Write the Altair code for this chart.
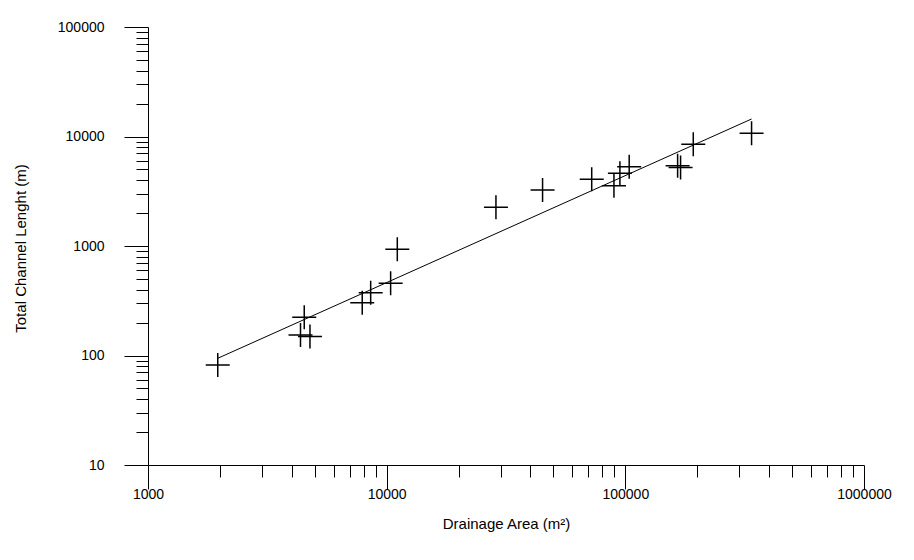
import altair as alt
import pandas as pd

drainage_area = [1960, 4515, 4355, 4771, 7900, 8570, 10390, 11080, 28700, 45000,
                 72300, 89600, 94900, 103800, 165600, 170400, 192600, 338000]
channel_length = [82, 223, 154, 149, 303, 374, 456, 933, 2256, 3246,
                  4066, 3556, 4613, 5300, 5400, 5200, 8490, 10690]

# Fitted power-law line (end points)
fit_area = [1960, 338000]
fit_length = [94.3, 14450]

# Axis ticks
x_major = [1000, 10000, 100000, 1000000]
y_major = [10, 100, 1000, 10000, 100000]
x_ticks = [m * k for m in x_major[:-1] for k in range(1, 10)] + [x_major[-1]]
y_ticks = [m * k for m in y_major[:-1] for k in range(1, 10)] + [y_major[-1]]

points = pd.DataFrame({"area": drainage_area, "length": channel_length})
fit = pd.DataFrame({"area": fit_area, "length": fit_length})

FONT = "Liberation Sans"
is_major = "abs(log(datum.value)/LN10 - round(log(datum.value)/LN10)) < 0.001"

x_scale = alt.Scale(type="log", domain=[1000, 1000000], nice=False)
y_scale = alt.Scale(type="log", domain=[10, 100000], nice=False)

x_axis = alt.Axis(
    values=x_ticks, format="d", labelExpr=f"({is_major}) ? datum.label : ''",
    tickSize={"condition": {"test": is_major, "value": 24}, "value": 12},
    labelOverlap=False, labelFlush=False, grid=False,
    labelPadding=-2, labelBaseline="top",
    title="Drainage Area (m²)", titleX=358, titleY=58, titleBaseline="middle",
)
y_axis = alt.Axis(
    values=y_ticks, format="d", labelExpr=f"({is_major}) ? datum.label : ''",
    tickSize={"condition": {"test": is_major, "value": 24}, "value": 12},
    labelOverlap=False, labelFlush=False, grid=False,
    labelPadding=20,
    title="Total Channel Lenght (m)", titleX=-128, titleY=221,
    titleAngle=-90, titleAlign="center", titleBaseline="middle",
)

cross = "M-1,0L1,0M0,-1L0,1"

pts = alt.Chart(points).mark_point(
    shape=cross, size=576, filled=False, color="black", strokeWidth=1.5, opacity=1
).encode(
    x=alt.X("area:Q", scale=x_scale, axis=x_axis),
    y=alt.Y("length:Q", scale=y_scale, axis=y_axis),
)

line = alt.Chart(fit).mark_line(color="black", strokeWidth=1).encode(
    x=alt.X("area:Q", scale=x_scale),
    y=alt.Y("length:Q", scale=y_scale),
)

chart = alt.layer(line, pts).properties(
    width=716, height=438,
    autosize=alt.AutoSizeParams(type="none"),
    padding={"left": 140, "top": 19, "right": 30, "bottom": 70},
).configure_view(stroke=None).configure_axis(
    domainColor="black", domainWidth=1, tickColor="black", tickWidth=1,
    labelColor="black", labelFont=FONT, labelFontSize=14,
    titleColor="black", titleFont=FONT, titleFontSize=15, titleFontWeight="normal",
)

chart.save("out.html", embed_options={"renderer": "svg", "actions": False})
